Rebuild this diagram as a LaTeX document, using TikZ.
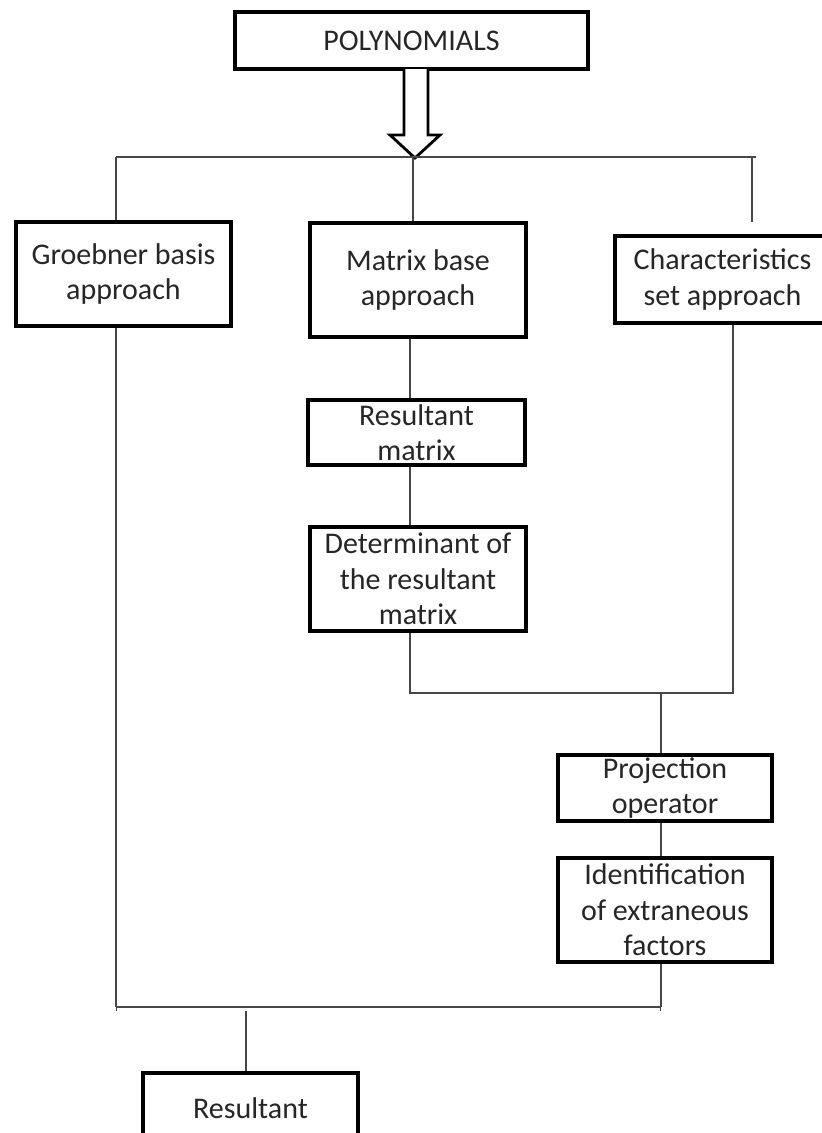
\documentclass[tikz,border=0pt]{standalone}
\usepackage{fontspec}
\setmainfont{Carlito}
\usetikzlibrary{arrows.meta}
\begin{document}
\begin{tikzpicture}[x=1pt,y=-1pt,
  box/.style={draw=black, line width=3.5pt, fill=white, inner sep=0pt, align=center,
    font=\fontsize{30}{35.5}\selectfont, text=black!85},
  conn/.style={draw=black!72, line width=1.1pt},
  blockarrow/.style={draw=black, line width=2.8pt, fill=white, line join=miter}]
\path[use as bounding box] (0,0) rectangle (822,1133);
\clip (0,0) rectangle (822,1133);

% boxes
\node[box, minimum width=353pt, minimum height=57pt] (poly) at (411.5,40.5) {POLYNOMIALS};
\node[box, minimum width=215pt, minimum height=104pt] (groeb) at (123.5,274) {Groebner basis\\approach};
\node[box, minimum width=216pt, minimum height=114pt] (matrix) at (418,280) {Matrix base\\approach};
\node[box, minimum width=215pt, minimum height=87pt] (charac) at (722.5,279.5) {Characteristics\\set approach};
\node[box, minimum width=217pt, minimum height=65pt] (resmat) at (416.5,432.5) {Resultant\\matrix};
\node[box, minimum width=216pt, minimum height=104pt] (det) at (418,579) {Determinant of\\the resultant\\matrix};
\node[box, minimum width=214pt, minimum height=66pt] (proj) at (665,788) {Projection\\operator};
\node[box, minimum width=214pt, minimum height=104pt] (ident) at (665,910) {Identification\\of extraneous\\factors};
\node[box, minimum width=215pt, minimum height=70pt] (result) at (250.5,1108) {Resultant};

% block arrow
\draw[blockarrow] (404,69) -- (404,135) -- (390,135) -- (415,158) -- (440,135) -- (428,135) -- (428,69);

% junction coordinates
\coordinate (tL) at (116,157);
\coordinate (tM) at (413,157);
\coordinate (tR) at (752,157);
\coordinate (tRend) at (756,157);
\coordinate (rFree) at (752,222);
\coordinate (bL) at (116,1007);
\coordinate (bR) at (661,1007);
\coordinate (mX) at (410,693);
\coordinate (cX) at (733,693);
\coordinate (pX) at (661,693);
\coordinate (rX) at (246,1011);

% top bus
\draw[conn] (tL) -- (tRend);
\draw[conn] (tL) -- (tL |- groeb.north);
\draw[conn] (tM) -- (tM |- matrix.north);
\draw[conn] (tR) -- (rFree);

% matrix column
\draw[conn] (mX |- matrix.south) -- (mX |- resmat.north);
\draw[conn] (mX |- resmat.south) -- (mX |- det.north);
\draw[conn] (mX |- det.south) -- (mX) -- (cX) -- (cX |- charac.south);
\draw[conn] (pX) -- (pX |- proj.north);
\draw[conn] (pX |- proj.south) -- (pX |- ident.north);
\draw[conn] (pX |- ident.south) -- (bR);

% left column and bottom bus
\draw[conn] (tL |- groeb.south) -- (bL);
\draw[conn, {Bar[width=7pt]}-{Bar[width=7pt]}] (bL) -- (bR);
\draw[conn] (rX) -- (rX |- result.north);
\end{tikzpicture}
\end{document}
